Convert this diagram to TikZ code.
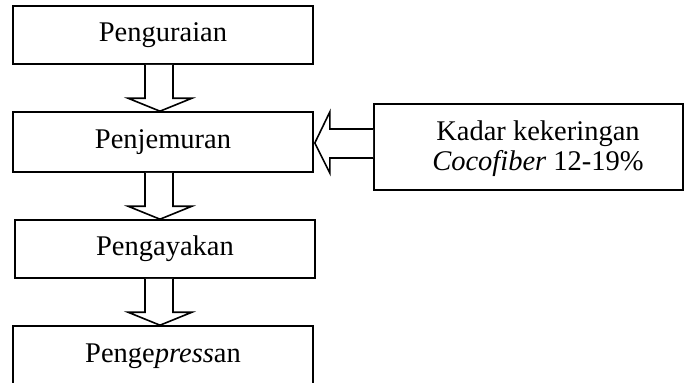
\documentclass[tikz,border=0pt]{standalone}
\usepackage{fontspec}
\setmainfont{Liberation Serif}
\usetikzlibrary{calc}
\begin{document}
\begin{tikzpicture}[x=1pt,y=-1pt,
  stepbox/.style={draw=black, line width=1.6pt, minimum width=300pt, minimum height=58pt,
    inner sep=0pt, font=\fontsize{28.5}{31}\selectfont},
  notebox/.style={draw=black, line width=1.6pt, minimum width=309pt, minimum height=86pt,
    inner sep=0pt},
  notetext/.style={align=center, inner sep=0pt, font=\fontsize{28.5}{30}\selectfont},
  blockarrow/.style={draw=black, line width=1.6pt, line join=miter, fill=white}]
  \useasboundingbox (0,0) rectangle (686,383);
  \clip (0,0) rectangle (686,383);

  % process steps
  \node[stepbox] (b1) at (163,35) {Penguraian};
  \node[stepbox, minimum height=60pt] (b2) at (163,142) {Penjemuran};
  \node[stepbox] (b3) at (165,249) {Pengayakan};
  \node[stepbox, minimum height=60pt] (b4) at (163,356) {Penge\textit{press}an};

  % side condition
  \node[notebox] (k) at (528.5,147) {};
  \node[notetext] (kt) at (538,149) {Kadar kekeringan\\\textit{Cocofiber} 12-19\%};

  % axis of the downward block arrows
  \coordinate (ax) at (159,0);

  % downward block arrows between the steps
  \foreach \a/\b in {b1/b2, b2/b3, b3/b4} {
    \draw[blockarrow]
      ($(ax |- \a.south)+(-14,0)$) -- ($(ax |- \b.north)+(-14,-13)$)
      -- ($(ax |- \b.north)+(-31,-13)$) -- ($(ax |- \b.north)+(1,0)$)
      -- ($(ax |- \b.north)+(33,-13)$) -- ($(ax |- \b.north)+(14,-13)$)
      -- ($(ax |- \a.south)+(14,0)$);
  }

  % leftward block arrow from the side condition to Penjemuran
  \draw[blockarrow]
    ($(k.west |- b2.east)+(0,-13)$) -- ($(b2.east)+(16,-13)$)
    -- ($(b2.east)+(16,-30)$) -- ($(b2.east)+(1,1)$)
    -- ($(b2.east)+(16,31)$) -- ($(b2.east)+(16,16)$)
    -- ($(k.west |- b2.east)+(0,16)$);
\end{tikzpicture}
\end{document}
